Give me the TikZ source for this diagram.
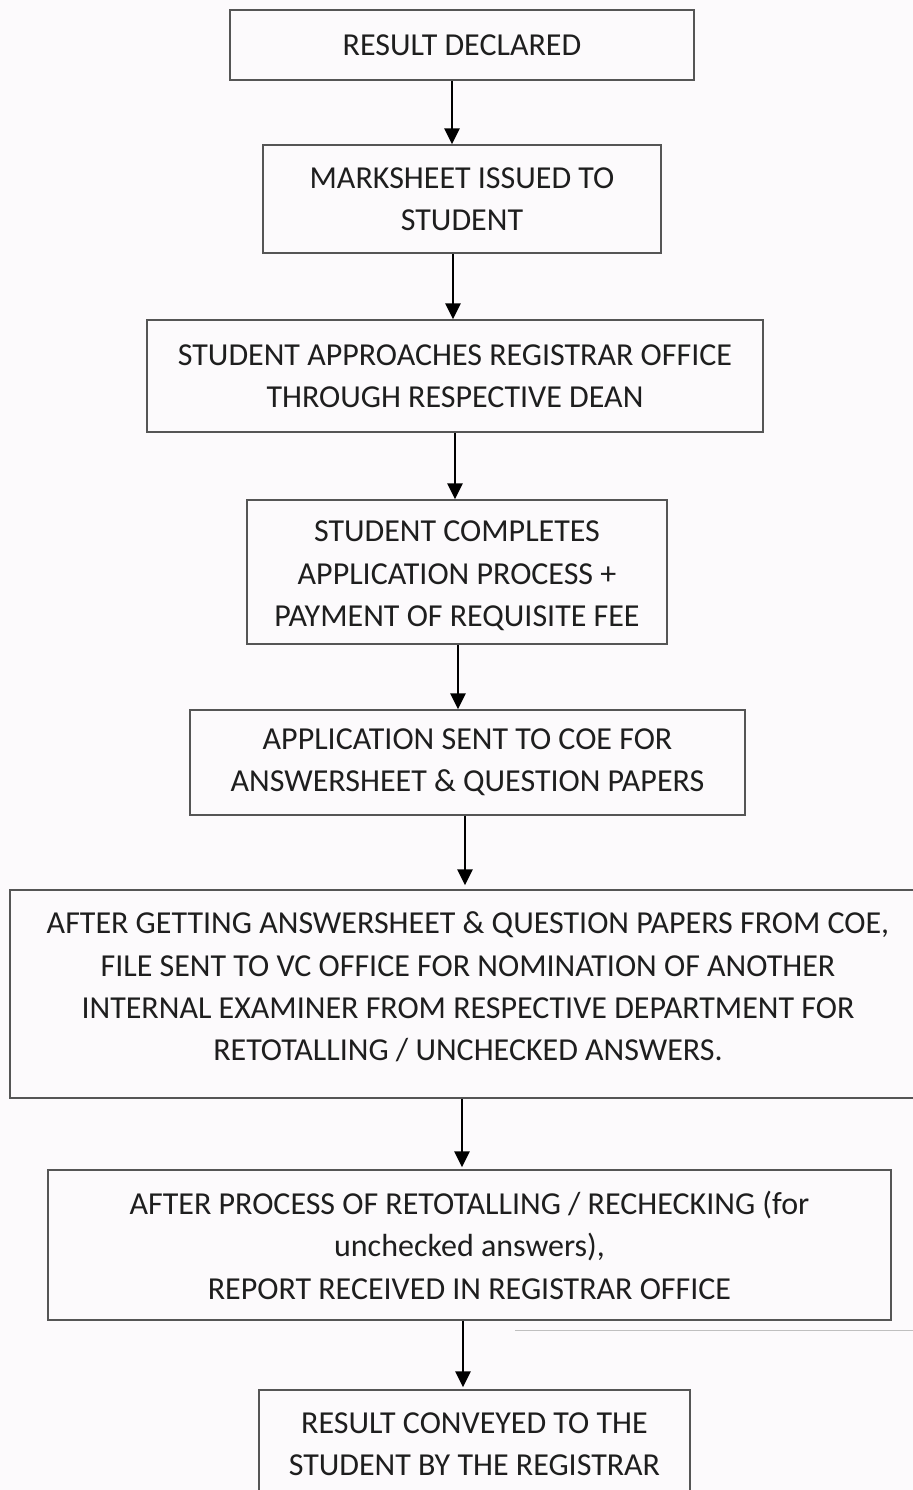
\documentclass[tikz,border=0pt]{standalone}
\usepackage{fontspec}
\setmainfont{Carlito}
\usetikzlibrary{arrows.meta}
\definecolor{bg}{HTML}{FCFAFC}
\definecolor{boxline}{HTML}{555555}
\definecolor{txt}{HTML}{1E1E1E}
\tikzset{
  flowbox/.style={draw=boxline, line width=0.75pt, fill=none, text=txt, align=center,
    font=\fontsize{16}{21.2}\selectfont, inner sep=0pt},
  flowtext/.style={text=txt, align=center, font=\fontsize{16}{21.2}\selectfont, inner sep=0pt},
  arr/.style={draw=black, line width=1.4pt, -{Triangle[length=8pt,width=7.5pt]}}
}
\begin{document}
\begin{tikzpicture}[x=0.5pt,y=-0.5pt]
\fill[bg] (0,0) rectangle (913,1490);
\useasboundingbox (0,0) rectangle (913,1490);
\clip (0,0) rectangle (913,1490);
\node[flowbox, minimum width=232pt, minimum height=35pt] (b1) at (462,45) {RESULT DECLARED};
\node[flowbox, minimum width=199pt, minimum height=54pt] (b2) at (462,199) {MARKSHEET ISSUED TO\\STUDENT};
\node[flowbox, minimum width=308pt, minimum height=56pt] (b3) at (455,376) {STUDENT APPROACHES REGISTRAR OFFICE\\THROUGH RESPECTIVE DEAN};
\node[flowbox, minimum width=210pt, minimum height=72pt] (b4) at (457,572) {};
\node[flowtext] (t4) at (457,576) {STUDENT COMPLETES\\APPLICATION PROCESS +\\PAYMENT OF REQUISITE FEE};
\node[flowbox, minimum width=277.5pt, minimum height=52.5pt] (b5) at (467.5,762.5) {APPLICATION SENT TO COE FOR\\ANSWERSHEET \& QUESTION PAPERS};
\node[flowbox, minimum width=452pt, minimum height=104pt] (b6) at (462,994) {};
\node[flowtext] (t6) at (468,987) {AFTER GETTING ANSWERSHEET \& QUESTION PAPERS FROM COE,\\FILE SENT TO VC OFFICE FOR NOMINATION OF ANOTHER\\INTERNAL EXAMINER FROM RESPECTIVE DEPARTMENT FOR\\RETOTALLING / UNCHECKED ANSWERS.};
\node[flowbox, minimum width=421.5pt, minimum height=75pt] (b7) at (469.5,1245) {AFTER PROCESS OF RETOTALLING / RECHECKING (for\\unchecked answers),\\REPORT RECEIVED IN REGISTRAR OFFICE};
\node[flowbox, minimum width=215.5pt, minimum height=54pt] (b8) at (474.5,1444) {RESULT CONVEYED TO THE\\STUDENT BY THE REGISTRAR};
\coordinate (x1) at (452,0);
\coordinate (x2) at (453,0);
\coordinate (x3) at (455,0);
\coordinate (x4) at (458,0);
\coordinate (x5) at (465,0);
\coordinate (x6) at (462,0);
\coordinate (x7) at (463,0);
\draw[arr] (b1.south -| x1) -- (b2.north -| x1);
\draw[arr] (b2.south -| x2) -- (b3.north -| x2);
\draw[arr] (b3.south -| x3) -- (b4.north -| x3);
\draw[arr] (b4.south -| x4) -- (b5.north -| x4);
\draw[arr] (b5.south -| x5) -- ([yshift=2pt]b6.north -| x5);
\draw[arr] (b6.south -| x6) -- ([yshift=1pt]b7.north -| x6);
\draw[arr] (b7.south -| x7) -- ([yshift=1pt]b8.north -| x7);
\draw[gray!50, line width=0.5pt] (515,1330) -- (913,1330);
\end{tikzpicture}
\end{document}
